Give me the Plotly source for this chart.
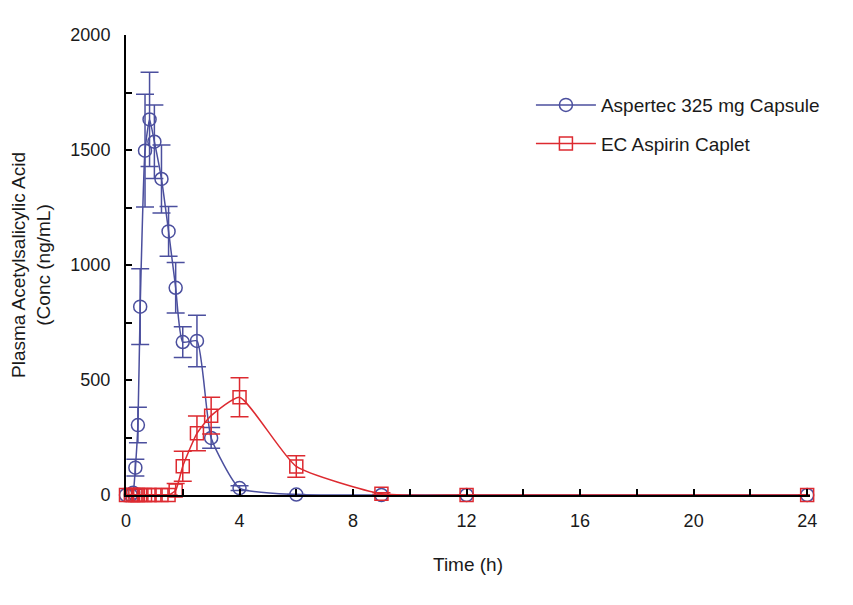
import plotly.graph_objects as go

# Aspertec 325 mg Capsule
t_asp = [0, 0.17, 0.25, 0.33, 0.42, 0.5, 0.67, 0.83, 1, 1.25, 1.5, 1.75, 2, 2.5, 3, 4, 6, 9, 12, 24]
c_asp = [0, 0, 10, 119, 304, 819, 1497, 1633, 1536, 1374, 1146, 901, 665, 670, 248, 30, 2, 0, 0, 0]
e_asp = [0, 0, 15, 36, 77, 165, 245, 205, 160, 148, 108, 110, 67, 112, 45, 10, 0, 0, 0, 0]

# EC Aspirin Caplet
t_ec = [0, 0.17, 0.25, 0.33, 0.42, 0.5, 0.67, 0.83, 1, 1.25, 1.5, 1.75, 2, 2.5, 3, 4, 6, 9, 12, 24]
c_ec = [0, 0, 0, 0, 0, 0, 0, 0, 0, 0, 0, 20, 125, 268, 345, 425, 124, 5, 0, 0]
e_ec = [0, 0, 0, 0, 0, 0, 0, 0, 0, 0, 0, 30, 65, 76, 80, 85, 47, 5, 0, 0]

x_ticks = [0, 4, 8, 12, 16, 20, 24]
y_ticks = [0, 500, 1000, 1500, 2000]

BLUE = "#4B4F9E"
RED = "#DD2A30"
FONT = "Liberation Sans, Arial, sans-serif"

fig = go.Figure()
fig.add_trace(go.Scatter(
    x=t_asp, y=c_asp, name="Aspertec 325 mg Capsule", legendgroup="a",
    mode="lines+markers",
    line=dict(color=BLUE, width=1.5, shape="spline", smoothing=0.5),
    marker=dict(symbol="circle-open", size=13, color=BLUE, line=dict(width=1.5)),
    error_y=dict(type="data", array=e_asp, color=BLUE, thickness=1.5, width=9),
    cliponaxis=False,
))
fig.add_trace(go.Scatter(
    x=t_ec, y=c_ec, name="EC Aspirin Caplet", legendgroup="b",
    mode="lines+markers",
    line=dict(color=RED, width=1.5, shape="spline", smoothing=0.5),
    marker=dict(symbol="square-open", size=13, color=RED, line=dict(width=1.5)),
    error_y=dict(type="data", array=e_ec, color=RED, thickness=1.5, width=9),
    cliponaxis=False,
))

fig.update_layout(
    width=853, height=605,
    margin=dict(l=118, r=51, t=27, b=118, autoexpand=False),
    paper_bgcolor="white", plot_bgcolor="white",
    font=dict(family=FONT, size=18, color="#1a1a1a"),
    showlegend=True,
    legend=dict(x=0.592, y=0.889, xanchor="left", yanchor="top",
                font=dict(size=19), tracegroupgap=11,
                bgcolor="rgba(0,0,0,0)", itemwidth=60),
    xaxis=dict(range=[0, 24.1], tickvals=x_ticks, ticktext=[str(v) for v in x_ticks],
               showline=True, linecolor="black", linewidth=2,
               ticks="inside", ticklen=6, tickwidth=1.5, tickcolor="black",
               ticklabelstandoff=8,
               minor=dict(dtick=2, tick0=0, ticks="inside", ticklen=6, tickwidth=1.5, tickcolor="black"),
               showgrid=False, zeroline=False,
               title=dict(text="Time (h)", standoff=28, font=dict(size=19))),
    yaxis=dict(range=[0, 2000], tickvals=y_ticks, ticktext=[str(v) for v in y_ticks],
               showline=True, linecolor="black", linewidth=2,
               ticks="inside", ticklen=6, tickwidth=1.5, tickcolor="black",
               ticklabelstandoff=10,
               minor=dict(dtick=250, tick0=0, ticks="inside", ticklen=6, tickwidth=1.5, tickcolor="black"),
               showgrid=False, zeroline=False,
               title=dict(text="Plasma Acetylsalicylic Acid<br>(Conc (ng/mL)", standoff=22, font=dict(size=19))),
)

fig.write_html("out.html")
